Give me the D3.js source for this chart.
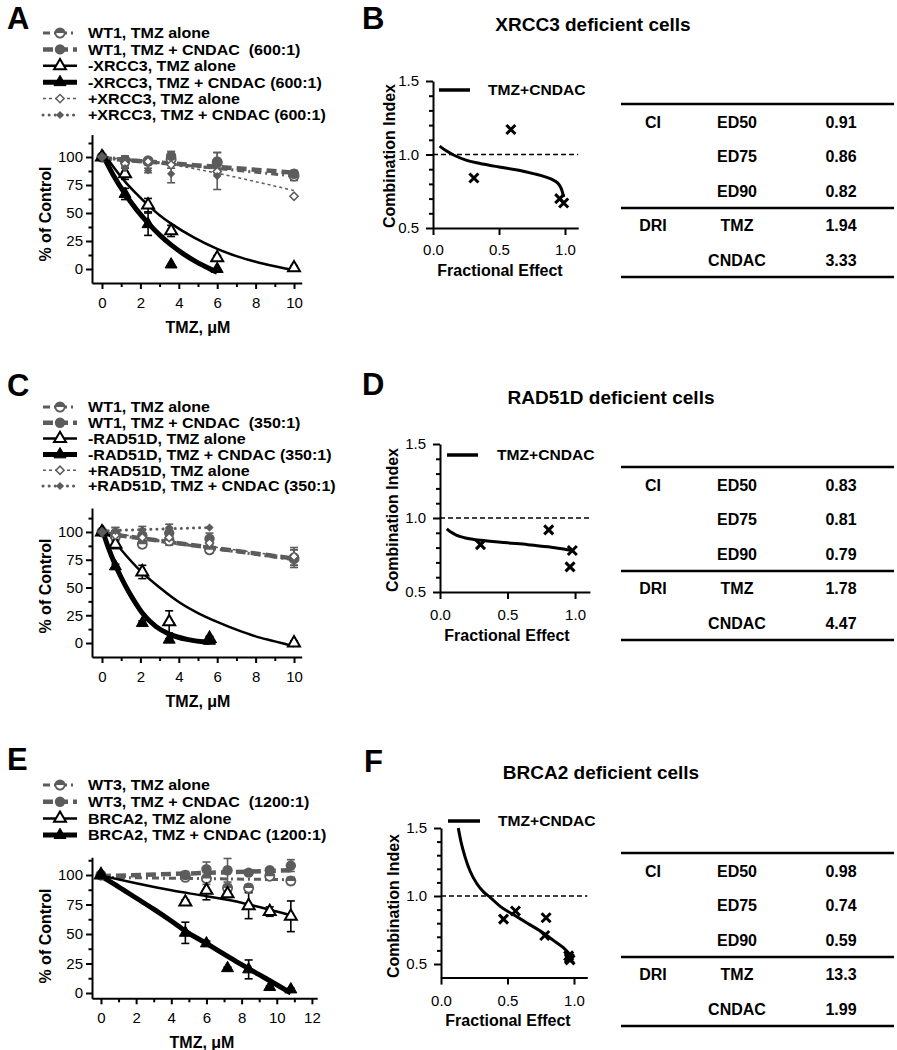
<!DOCTYPE html>
<html><head><meta charset="utf-8">
<script src="https://cdn.jsdelivr.net/npm/d3@7"></script>
<style>
body{margin:0;background:#fff}
svg{display:block}
text{font-family:"Liberation Sans",Arial,Helvetica,sans-serif;fill:#000}
</style></head>
<body><svg id="chart" width="897" height="1050"></svg>
<script>
// ---------------- DATA ----------------
// Panel A (XRCC3)
const A_legend = ['WT1, TMZ alone','WT1, TMZ + CNDAC  (600:1)','-XRCC3, TMZ alone','-XRCC3, TMZ + CNDAC (600:1)','+XRCC3, TMZ alone','+XRCC3, TMZ + CNDAC (600:1)'];
const A_dose = [0, 1.2, 2.4, 3.6, 6, 10];
const A_dose_short = [0, 1.2, 2.4, 3.6, 6];
const A_wt_alone = [100, 97, 96, 98, 95, 83];
const A_wt_alone_err = [2, 3, 3, 4, 9, 4];
const A_wt_cndac = [100, 97, 97, 101, 96, 85];
const A_wt_cndac_err = [2, 4, 2, 4, 8, 3];
const A_neg_alone = [100, 85, 57, 34, 10, 1];
const A_neg_alone_err = [0, 5, 6, 5, 2, 2];
const A_neg_cndac = [100, 67, 40, 4, 0];
const A_neg_cndac_err = [0, 5, 10, 0, 0];
const A_pos_alone = [100, 94, 96, 93, 87, 65];
const A_pos_alone_err = [0, 2, 2, 3, 3, 0];
const A_pos_cndac = [100, 90, 88, 85, 83];
const A_pos_cndac_err = [0, 3, 2, 8, 12];
const A_fitx_wt_alone = [0, 10],  A_fit_wt_alone = [100, 83];
const A_fitx_wt_cndac = [0, 10],  A_fit_wt_cndac = [99, 86];
const A_fitx_pos_alone = [0, 2, 4, 6, 8, 10], A_fit_pos_alone = [100, 96.5, 92, 85.5, 78, 70];
const A_fitx_pos_cndac = [0, 6], A_fit_pos_cndac = [99, 90];
const A_fitx_neg_alone = [0, 0.6, 1.2, 1.8, 2.4, 3, 3.6, 4.8, 6, 7, 8, 9, 10];
const A_fit_neg_alone  = [106, 91, 78, 67, 57, 48, 40.5, 28, 18, 11.5, 6.5, 2.5, -1];
const A_fitx_neg_cndac = [0, 0.6, 1.2, 1.8, 2.4, 3, 3.6, 4.2, 4.8, 5.4, 6];
const A_fit_neg_cndac  = [103, 83.5, 67, 53, 41, 30.5, 21.5, 14, 7.5, 2, -3];

// Panel C (RAD51D)
const C_legend = ['WT1, TMZ alone','WT1, TMZ + CNDAC  (350:1)','-RAD51D, TMZ alone','-RAD51D, TMZ + CNDAC (350:1)','+RAD51D, TMZ alone','+RAD51D, TMZ + CNDAC (350:1)'];
const C_dose = [0, 0.7, 2.1, 3.5, 5.6, 10];
const C_dose_short = [0, 0.7, 2.1, 3.5, 5.6];
const C_wt_alone = [100, 96, 89, 92, 84, 76];
const C_wt_alone_err = [1, 4, 3, 4, 3, 8];
const C_wt_cndac = [100, 99, 97, 99, 94, 77];
const C_wt_cndac_err = [1, 5, 5, 4, 5, 7];
const C_neg_alone = [100, 89, 64, 19, 4, 0];
const C_neg_alone_err = [0, 4, 6, 10, 2, 2];
const C_neg_cndac = [100, 69, 18, 3, 2];
const C_neg_cndac_err = [0, 2, 2, 1, 1];
const C_pos_alone = [100, 97, 95, 95, 90, 78];
const C_pos_alone_err = [0, 3, 3, 3, 3, 8];
const C_pos_cndac = [100, 101, 102, 104, 104];
const C_pos_cndac_err = [0, 3, 3, 3, 0];
const C_fitx_wt_alone = [0, 10], C_fit_wt_alone = [99, 75];
const C_fitx_wt_cndac = [0, 10], C_fit_wt_cndac = [99, 76];
const C_fitx_pos_alone = [0, 5.6, 10], C_fit_pos_alone = [100, 87, 77];
const C_fitx_pos_cndac = [0, 5.6], C_fit_pos_cndac = [101, 104];
const C_fitx_neg_alone = [0, 1, 2, 3, 4, 5, 6, 7, 8, 9, 10];
const C_fit_neg_alone  = [106, 84, 65, 50, 37, 27, 19, 12, 6, 1.5, -3];
const C_fitx_neg_cndac = [0, 0.35, 0.7, 1, 1.4, 1.75, 2.1, 2.8, 3.5, 4.5, 5.6];
const C_fit_neg_cndac  = [103, 85, 70, 59, 46, 36, 27, 15, 8, 3, 0.5];

// Panel E (BRCA2)
const E_legend = ['WT3, TMZ alone','WT3, TMZ + CNDAC  (1200:1)','BRCA2, TMZ alone','BRCA2, TMZ + CNDAC (1200:1)'];
const E_dose = [0, 4.8, 6, 7.2, 8.4, 9.6, 10.8];
const E_wt_alone = [100, 98, 97, 89, 89, 99, 95];
const E_wt_alone_err = [1, 2, 5, 3, 3, 2, 3];
const E_wt_cndac = [100, 100, 105, 104, 102, 104, 108];
const E_wt_cndac_err = [1, 3, 6, 10, 2, 2, 5];
const E_neg_alone = [100, 77, 87, 84, 74, 69, 65];
const E_neg_alone_err = [0, 2, 8, 3, 11, 4, 13];
const E_neg_cndac = [100, 51, 42, 21, 20, 5, 3];
const E_neg_cndac_err = [0, 9, 2, 1, 8, 1, 1];
const E_fitx_wt_alone = [0, 10.8], E_fit_wt_alone = [98, 96];
const E_fitx_wt_cndac = [0, 10.8], E_fit_wt_cndac = [99, 104];
const E_fitx_neg_alone = [0, 2, 4, 6, 8, 10, 10.8], E_fit_neg_alone = [99.5, 93, 87, 82, 76.5, 69, 66];
const E_fitx_neg_cndac = [0, 1, 2, 3, 4, 4.8, 6, 7, 8, 9, 10, 10.8];
const E_fit_neg_cndac  = [99, 90, 80.5, 71, 61, 52.5, 42, 33, 24, 15.5, 7, 0];

// Combination index panels
const B_fa = [0.31, 0.59, 0.96, 0.99], B_ci = [0.84, 1.17, 0.70, 0.67];
const B_curve_fa = [0.05, 0.1, 0.16, 0.25, 0.35, 0.5, 0.65, 0.76, 0.85, 0.92, 0.955, 0.975, 0.99];
const B_curve_ci = [1.057, 1.025, 0.995, 0.962, 0.94, 0.915, 0.893, 0.87, 0.848, 0.822, 0.795, 0.76, 0.71];
const D_fa = [0.30, 0.805, 0.963, 0.98], D_ci = [0.82, 0.92, 0.67, 0.78];
const D_curve_fa = [0.05, 0.08, 0.12, 0.18, 0.25, 0.35, 0.5, 0.65, 0.8, 0.9, 0.98];
const D_curve_ci = [0.927, 0.905, 0.885, 0.867, 0.855, 0.845, 0.832, 0.82, 0.805, 0.792, 0.78];
const F_fa = [0.47, 0.56, 0.79, 0.78, 0.96, 0.97, 0.965], F_ci = [0.83, 0.89, 0.84, 0.71, 0.56, 0.53, 0.54];
const F_curve_fa = [0.13, 0.15, 0.18, 0.22, 0.27, 0.32, 0.37, 0.45, 0.55, 0.65, 0.75, 0.85, 0.92, 0.97];
const F_curve_ci = [1.5, 1.4, 1.29, 1.18, 1.09, 1.03, 0.99, 0.92, 0.86, 0.8, 0.74, 0.67, 0.62, 0.57];

// Tables
const T_group = ['CI', '', '', 'DRI', ''];
const T_item = ['ED50', 'ED75', 'ED90', 'TMZ', 'CNDAC'];
const B_vals = ['0.91', '0.86', '0.82', '1.94', '3.33'];
const D_vals = ['0.83', '0.81', '0.79', '1.78', '4.47'];
const F_vals = ['0.98', '0.74', '0.59', '13.3', '1.99'];

const CI_ticks = [0.5, 1.0, 1.5];
const CI_minor = [0.6, 0.7, 0.8, 0.9, 1.1, 1.2, 1.3, 1.4];
const FA_ticks = [0, 0.5, 1.0];
const PCT_ticks = [0, 25, 50, 75, 100];
const PCT_minor = [12.5, 37.5, 62.5, 87.5, 112.5];

// ---------------- DRAWING ----------------
const svg = d3.select('#chart');
const GRAY = '#5c5c5c';
const STY = {
  wtAlone:  {color: GRAY, w: 3,   dash: '7,4,2,4', cap: 'butt',  marker: 'half'},
  wtCndac:  {color: GRAY, w: 4.5, dash: '10,5',    cap: 'butt',  marker: 'dot'},
  negAlone: {color: '#000', w: 2.5, dash: null,    cap: 'butt',  marker: 'triO'},
  negCndac: {color: '#000', w: 5,   dash: null,    cap: 'butt',  marker: 'triF'},
  posAlone: {color: GRAY, w: 1.5, dash: '3,3',     cap: 'butt',  marker: 'diaO'},
  posCndac: {color: GRAY, w: 3,   dash: '0.1,6',   cap: 'round', marker: 'diaF'}
};

function txt(g, x, y, s, size, weight, anchor, opt) {
  opt = opt || {};
  let tr = `translate(${x},${y})`;
  if (opt.rot) tr += ` rotate(${opt.rot})`;
  if (opt.sx) tr += ` scale(${opt.sx},1)`;
  return g.append('text').attr('transform', tr)
    .attr('text-anchor', anchor || 'start')
    .attr('dominant-baseline', opt.base || 'central')
    .style('font-size', size + 'px').style('font-weight', weight || 'normal')
    .style('white-space', 'pre').text(s);
}

function marker(g, type, cx, cy) {
  const m = g.append('g').attr('transform', `translate(${cx},${cy})`);
  const tri = d3.symbol(d3.symbolTriangle, 62)();
  const sq = d3.symbol(d3.symbolSquare, 34)();
  if (type === 'half') {
    m.append('circle').attr('r', 4.6).attr('fill', '#fff').attr('stroke', GRAY).attr('stroke-width', 1.8);
    m.append('path').attr('d', 'M-4.6,0A4.6,4.6 0 0 1 4.6,0Z').attr('fill', GRAY);
  } else if (type === 'dot') {
    m.append('circle').attr('r', 5.2).attr('fill', GRAY);
  } else if (type === 'triO') {
    m.append('path').attr('d', tri).attr('fill', '#fff').attr('stroke', '#000').attr('stroke-width', 2);
  } else if (type === 'triF') {
    m.append('path').attr('d', tri).attr('fill', '#000').attr('stroke', '#000').attr('stroke-width', 1);
  } else if (type === 'diaO') {
    m.append('path').attr('d', sq).attr('transform', 'rotate(45)').attr('fill', '#fff').attr('stroke', GRAY).attr('stroke-width', 1.5);
  } else if (type === 'diaF') {
    m.append('path').attr('d', sq).attr('transform', 'rotate(45)').attr('fill', GRAY);
  }
}

function styleAxis(a, size) {
  a.attr('font-family', '"Liberation Sans",Arial,sans-serif').attr('font-size', size);
  a.select('.domain').attr('stroke', '#000').attr('stroke-width', 2);
  a.selectAll('.tick line').attr('stroke', '#000').attr('stroke-width', 2);
  a.selectAll('.tick text').attr('fill', '#000');
}

function dosePlot(c) {
  const g = svg.append('g');
  const x = d3.scaleLinear().domain(c.xDom).range(c.xRange);
  const y = d3.scaleLinear().domain(c.yDom).range(c.yRange);
  const axisX = c.xRange[0], axisY = c.yRange[0];
  const ya = g.append('g').attr('transform', `translate(${axisX},0)`)
    .call(d3.axisLeft(y).tickValues(PCT_ticks).tickSize(6).tickPadding(3).tickSizeOuter(0));
  styleAxis(ya, 15);
  const ym = g.append('g').attr('transform', `translate(${axisX},0)`)
    .call(d3.axisLeft(y).tickValues(PCT_minor.filter(v => v < c.yDom[1])).tickSize(3.5).tickFormat('').tickSizeOuter(0));
  styleAxis(ym, 15); ym.select('.domain').remove();
  const xa = g.append('g').attr('transform', `translate(0,${axisY})`)
    .call(d3.axisBottom(x).tickValues(c.xTicks).tickSize(6).tickPadding(8).tickSizeOuter(0));
  styleAxis(xa, 15);
  const xm = g.append('g').attr('transform', `translate(0,${axisY})`)
    .call(d3.axisBottom(x).tickValues(c.xMinor).tickSize(4).tickFormat('').tickSizeOuter(0));
  styleAxis(xm, 15); xm.select('.domain').remove();
  txt(g, c.yTitle[0], c.yTitle[1], '% of Control', 16, 'bold', 'middle', {rot: -90});
  txt(g, c.xTitle[0], c.xTitle[1], 'TMZ, \u03bcM', 16, 'bold', 'middle');
  txt(g, c.letter[0], c.letter[1], c.letter[2], 31, 'bold', 'start', {base: 'auto'});
  const line = d3.line().x(d => x(d[0])).y(d => y(d[1])).curve(d3.curveMonotoneX);
  c.series.forEach(s => {
    const st = STY[s.style];
    g.append('path').datum(s.fx.map((v, i) => [v, s.fy[i]]))
      .attr('d', line).attr('fill', 'none').attr('stroke', st.color)
      .attr('stroke-width', st.w).attr('stroke-dasharray', st.dash)
      .attr('stroke-linecap', st.cap);
  });
  c.series.forEach(s => {
    const st = STY[s.style];
    s.dose.forEach((d, i) => {
      const e = s.err[i];
      if (!e) return;
      const cx = x(d), y1 = y(s.val[i] + e), y2 = y(s.val[i] - e);
      g.append('line').attr('x1', cx).attr('x2', cx).attr('y1', y1).attr('y2', y2).attr('stroke', st.color).attr('stroke-width', 1.6);
      [y1, y2].forEach(yy => g.append('line').attr('x1', cx - 4).attr('x2', cx + 4).attr('y1', yy).attr('y2', yy).attr('stroke', st.color).attr('stroke-width', 1.6));
    });
  });
  c.series.forEach(s => {
    const st = STY[s.style];
    s.dose.forEach((d, i) => marker(g, st.marker, x(d), y(s.val[i])));
  });
  c.legend.forEach((lab, i) => {
    const st = STY[c.series[i].style];
    const ly = c.legendY + i * c.legendStep;
    g.append('line').attr('x1', 43).attr('x2', 77).attr('y1', ly).attr('y2', ly)
      .attr('stroke', st.color).attr('stroke-width', st.w).attr('stroke-dasharray', st.dash).attr('stroke-linecap', st.cap);
    marker(g, st.marker, 60, ly);
    txt(g, 88, ly, lab, 15, 'bold', 'start', {sx: 1.07});
  });
}

function ciPlot(c) {
  const g = svg.append('g');
  const x = d3.scaleLinear().domain(c.xDom).range(c.xRange);
  const y = d3.scaleLinear().domain(c.yDom).range(c.yRange);
  const axisX = c.xRange[0], axisY = c.yRange[0];
  const ya = g.append('g').attr('transform', `translate(${axisX},0)`)
    .call(d3.axisLeft(y).tickValues(CI_ticks).tickFormat(d3.format('.1f')).tickSize(7).tickPadding(7).tickSizeOuter(0));
  styleAxis(ya, 15);
  const ym = g.append('g').attr('transform', `translate(${axisX},0)`)
    .call(d3.axisLeft(y).tickValues(CI_minor).tickSize(4).tickFormat('').tickSizeOuter(0));
  styleAxis(ym, 15); ym.select('.domain').remove();
  const xa = g.append('g').attr('transform', `translate(0,${axisY})`)
    .call(d3.axisBottom(x).tickValues(FA_ticks).tickFormat(d3.format('.1f')).tickSize(7).tickPadding(c.xPad).tickSizeOuter(0));
  styleAxis(xa, 15);
  g.append('line').attr('x1', x(0)).attr('x2', c.xRange[1]).attr('y1', y(1)).attr('y2', y(1))
    .attr('stroke', '#000').attr('stroke-width', 1.5).attr('stroke-dasharray', '5,3');
  const line = d3.line().x(d => x(d[0])).y(d => y(d[1])).curve(d3.curveMonotoneX);
  g.append('path').datum(c.cfa.map((v, i) => [v, c.cci[i]])).attr('d', line)
    .attr('fill', 'none').attr('stroke', '#000').attr('stroke-width', 3);
  c.fa.forEach((f, i) => {
    const cx = x(f), cy = y(c.ci[i]), r = 4.5;
    g.append('path').attr('d', `M${cx - r},${cy - r}L${cx + r},${cy + r}M${cx - r},${cy + r}L${cx + r},${cy - r}`)
      .attr('stroke', '#000').attr('stroke-width', 3);
  });
  g.append('line').attr('x1', c.leg[0]).attr('x2', c.leg[1]).attr('y1', c.leg[2]).attr('y2', c.leg[2])
    .attr('stroke', '#000').attr('stroke-width', 3.5);
  txt(g, c.leg[3], c.leg[2], 'TMZ+CNDAC', 15, 'bold', 'start', {sx: 1.04});
  txt(g, c.yTitle[0], c.yTitle[1], 'Combination Index', 16, 'bold', 'middle', {rot: -90});
  txt(g, c.xTitle[0], c.xTitle[1], 'Fractional Effect', 16, 'bold', 'middle');
  txt(g, c.title[1], c.title[2], c.title[0], 19, 'bold', 'middle');
  txt(g, c.letter[0], c.letter[1], c.letter[2], 31, 'bold', 'start', {base: 'auto'});
  const top = c.tableTop;
  [top, top + 104, top + 173].forEach(ly => g.append('line').attr('x1', 621).attr('x2', 894)
    .attr('y1', ly).attr('y2', ly).attr('stroke', '#000').attr('stroke-width', 2.5));
  T_item.forEach((it, i) => {
    const ry = top + 18 + i * 34.5;
    if (T_group[i]) txt(g, 653, ry, T_group[i], 16, 'bold', 'middle');
    txt(g, 737, ry, it, 16, 'bold', 'middle');
    txt(g, 841, ry, c.vals[i], 16, 'bold', 'middle');
  });
}

function S(style, dose, val, err, fx, fy) { return {style, dose, val, err, fx, fy}; }

dosePlot({
  letter: [7, 29, 'A'], legend: A_legend, legendY: 33, legendStep: 16.4,
  xDom: [-0.52, 10.4], xRange: [92, 301.7], yDom: [-12.5, 120], yRange: [283, 134.6],
  xTicks: [0, 2, 4, 6, 8, 10], xMinor: [1, 3, 5, 7, 9],
  yTitle: [45, 214], xTitle: [198, 327],
  series: [
    S('wtAlone', A_dose, A_wt_alone, A_wt_alone_err, A_fitx_wt_alone, A_fit_wt_alone),
    S('wtCndac', A_dose, A_wt_cndac, A_wt_cndac_err, A_fitx_wt_cndac, A_fit_wt_cndac),
    S('negAlone', A_dose, A_neg_alone, A_neg_alone_err, A_fitx_neg_alone, A_fit_neg_alone),
    S('negCndac', A_dose_short, A_neg_cndac, A_neg_cndac_err, A_fitx_neg_cndac, A_fit_neg_cndac),
    S('posAlone', A_dose, A_pos_alone, A_pos_alone_err, A_fitx_pos_alone, A_fit_pos_alone),
    S('posCndac', A_dose_short, A_pos_cndac, A_pos_cndac_err, A_fitx_pos_cndac, A_fit_pos_cndac)
  ]
});
dosePlot({
  letter: [7, 396, 'C'], legend: C_legend, legendY: 407, legendStep: 15.8,
  xDom: [-0.52, 10.4], xRange: [92, 301.7], yDom: [-12.6, 121.6], yRange: [657, 508],
  xTicks: [0, 2, 4, 6, 8, 10], xMinor: [1, 3, 5, 7, 9],
  yTitle: [45, 586], xTitle: [198, 701],
  series: [
    S('wtAlone', C_dose, C_wt_alone, C_wt_alone_err, C_fitx_wt_alone, C_fit_wt_alone),
    S('wtCndac', C_dose, C_wt_cndac, C_wt_cndac_err, C_fitx_wt_cndac, C_fit_wt_cndac),
    S('negAlone', C_dose, C_neg_alone, C_neg_alone_err, C_fitx_neg_alone, C_fit_neg_alone),
    S('negCndac', C_dose_short, C_neg_cndac, C_neg_cndac_err, C_fitx_neg_cndac, C_fit_neg_cndac),
    S('posAlone', C_dose, C_pos_alone, C_pos_alone_err, C_fitx_pos_alone, C_fit_pos_alone),
    S('posCndac', C_dose_short, C_pos_cndac, C_pos_cndac_err, C_fitx_pos_cndac, C_fit_pos_cndac)
  ]
});
dosePlot({
  letter: [7, 770, 'E'], legend: E_legend, legendY: 785, legendStep: 16.7,
  xDom: [-0.51, 12.3], xRange: [92, 317.2], yDom: [-4.5, 115], yRange: [998.3, 857.3],
  xTicks: [0, 2, 4, 6, 8, 10, 12], xMinor: [1, 3, 5, 7, 9, 11],
  yTitle: [45, 936], xTitle: [202, 1042],
  series: [
    S('wtAlone', E_dose, E_wt_alone, E_wt_alone_err, E_fitx_wt_alone, E_fit_wt_alone),
    S('wtCndac', E_dose, E_wt_cndac, E_wt_cndac_err, E_fitx_wt_cndac, E_fit_wt_cndac),
    S('negAlone', E_dose, E_neg_alone, E_neg_alone_err, E_fitx_neg_alone, E_fit_neg_alone),
    S('negCndac', E_dose, E_neg_cndac, E_neg_cndac_err, E_fitx_neg_cndac, E_fit_neg_cndac)
  ]
});

ciPlot({
  letter: [362, 29, 'B'], title: ['XRCC3 deficient cells', 593, 24],
  xDom: [0, 1.1], xRange: [433, 578.2], yDom: [0.5, 1.5], yRange: [228, 81], xPad: 9,
  yTitle: [389, 156], xTitle: [500, 270], leg: [439, 470, 90, 488],
  fa: B_fa, ci: B_ci, cfa: B_curve_fa, cci: B_curve_ci, tableTop: 104, vals: B_vals
});
ciPlot({
  letter: [362, 395, 'D'], title: ['RAD51D deficient cells', 611, 397],
  xDom: [0, 1.11], xRange: [440, 589.9], yDom: [0.5, 1.5], yRange: [592, 444], xPad: 10,
  yTitle: [392, 520], xTitle: [507, 635], leg: [447, 478, 455, 497],
  fa: D_fa, ci: D_ci, cfa: D_curve_fa, cci: D_curve_ci, tableTop: 467, vals: D_vals
});
ciPlot({
  letter: [364, 772, 'F'], title: ['BRCA2 deficient cells', 601, 772],
  xDom: [0, 1.1], xRange: [441, 587.3], yDom: [0.4, 1.5], yRange: [977.6, 828], xPad: 11,
  yTitle: [393, 906], xTitle: [508, 1020], leg: [448, 480, 821, 498],
  fa: F_fa, ci: F_ci, cfa: F_curve_fa, cci: F_curve_ci, tableTop: 853, vals: F_vals
});
</script>
</body></html>
